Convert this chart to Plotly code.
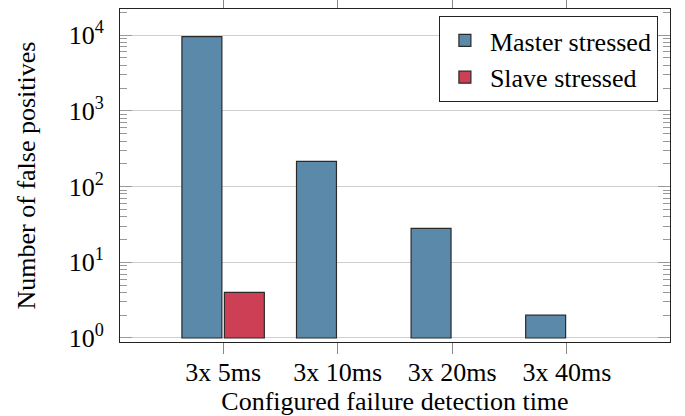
import plotly.graph_objects as go

categories = ["3x 5ms", "3x 10ms", "3x 20ms", "3x 40ms"]
master_stressed = [9600, 215, 28, 2]
slave_stressed = [4, None, None, None]

y_tickvals = [1, 10, 100, 1000, 10000]
y_ticktext = ["10<sup>0</sup>", "10<sup>1</sup>", "10<sup>2</sup>", "10<sup>3</sup>", "10<sup>4</sup>"]

BASE = 1

def above_base(vals):
    return [None if v is None else v - BASE for v in vals]

fig = go.Figure()
fig.add_trace(go.Bar(
    x=categories, y=above_base(master_stressed), base=BASE, name="Master stressed",
    marker=dict(color="#5b89aa", line=dict(color="#2a2a2a", width=1.2)),
    customdata=master_stressed, hovertemplate="%{customdata}<extra></extra>",
))
fig.add_trace(go.Bar(
    x=categories, y=above_base(slave_stressed), base=BASE, name="Slave stressed",
    marker=dict(color="#cc3f55", line=dict(color="#2a2a2a", width=1.2)),
    customdata=slave_stressed, hovertemplate="%{customdata}<extra></extra>",
))

FAM = "Liberation Serif, Times New Roman, serif"
SZ = 26
font = dict(family=FAM, size=SZ, color="#000")

fig.update_layout(
    width=685, height=416,
    margin=dict(l=120, r=15, t=9, b=74),
    paper_bgcolor="white", plot_bgcolor="white",
    barmode="group", bargap=0.259, bargroupgap=0.059,
    font=font,
    showlegend=True,
    legend=dict(
        x=0.978, y=0.979, xanchor="right", yanchor="top",
        bgcolor="white", bordercolor="#222", borderwidth=1,
        font=dict(family=FAM, size=SZ, color="#000"),
        tracegroupgap=0, itemwidth=40,
    ),
)

fig.update_xaxes(
    type="category", range=[-0.9, 3.9], automargin=False,
    showline=True, linecolor="#222", linewidth=1, mirror="ticks",
    ticks="outside", ticklen=11, tickcolor="#888", tickwidth=1,
    showgrid=False, zeroline=False,
    tickfont=dict(family=FAM, size=SZ, color="#000"),
    ticklabelstandoff=-4,
    title=dict(text="Configured failure detection time", standoff=6,
               font=dict(family=FAM, size=SZ, color="#000")),
)

fig.update_yaxes(
    type="log", range=[-0.053, 4.346], automargin=False,
    showline=True, linecolor="#222", linewidth=1, mirror="ticks",
    tickvals=y_tickvals, ticktext=y_ticktext,
    ticks="inside", ticklen=12, tickcolor="#999", tickwidth=1,
    showgrid=True, gridcolor="#cfcfcf", gridwidth=1,
    zeroline=False,
    minor=dict(ticks="inside", ticklen=7, tickcolor="#999", tickwidth=1, showgrid=False,
               tickvals=[m * 10 ** d for d in range(-1, 5) for m in range(2, 10)]),
    tickfont=dict(family=FAM, size=SZ, color="#000"),
    ticklabelstandoff=10,
    title=dict(text="Number of false positives", standoff=25,
               font=dict(family=FAM, size=SZ, color="#000")),
)

fig.write_html("out.html", config={"displayModeBar": False},
               post_script="document.body.style.margin='0';document.body.style.overflow='hidden';")
